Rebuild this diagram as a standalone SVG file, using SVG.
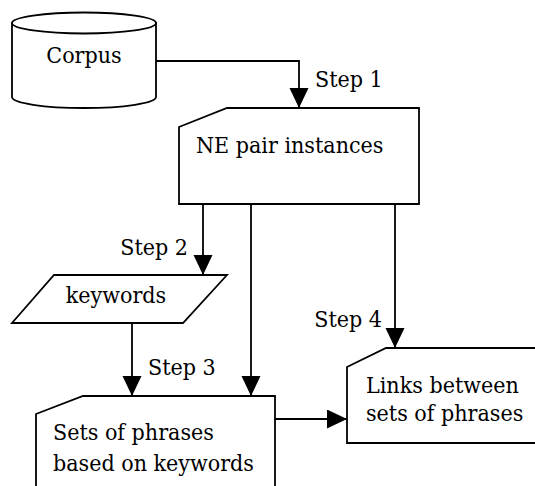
<svg xmlns="http://www.w3.org/2000/svg" width="535" height="486" viewBox="0 0 535 486">
<style>
.s{fill:#fff;stroke:#000;stroke-width:1.8;stroke-linejoin:miter}
.c{fill:none;stroke:#000;stroke-width:1.8}
.t{font-family:'DejaVu Serif Condensed','DejaVu Serif','Liberation Serif',serif;font-stretch:condensed;font-size:23px;fill:#000}
</style>
<defs>
<marker id="ah" markerUnits="userSpaceOnUse" markerWidth="21" markerHeight="20" refX="20" refY="9.5" orient="auto">
<path d="M0,0 L20,9.5 L0,19 Z" fill="#000"/>
</marker>
</defs>
<rect width="535" height="486" fill="#fff"/>
<g id="connectors">
<path class="c" d="M156,61 H299 V108" marker-end="url(#ah)"/>
<path class="c" d="M203,204 V275" marker-end="url(#ah)"/>
<path class="c" d="M251,204 V396" marker-end="url(#ah)"/>
<path class="c" d="M395,204 V348" marker-end="url(#ah)"/>
<path class="c" d="M132,323 V396" marker-end="url(#ah)"/>
<path class="c" d="M275,419 H347" marker-end="url(#ah)"/>
<text class="t" x="315" y="87">Step 1</text>
<text class="t" x="188" y="255" text-anchor="end">Step 2</text>
<text class="t" x="148" y="375">Step 3</text>
<text class="t" x="382" y="327" text-anchor="end">Step 4</text>
</g>
<g id="corpus">
<path class="s" d="M12,23 L12,97 A72,11 0 0 0 156,97 L156,23 Z"/>
<ellipse class="s" cx="84" cy="23" rx="72" ry="10.5"/>
<text class="t" x="84" y="63" text-anchor="middle">Corpus</text>
</g>
<g id="ne-pair">
<polygon class="s" points="179,127 227,108 419,108 419,204 179,204"/>
<text class="t" x="196" y="153">NE pair instances</text>
</g>
<g id="keywords">
<polygon class="s" points="54,275 227,275 183,323 12,323"/>
<text class="t" x="116" y="303" text-anchor="middle">keywords</text>
</g>
<g id="sets">
<polygon class="s" points="36,414 83,396 275,396 275,492 36,492"/>
<text class="t" x="53" y="440">Sets of phrases</text>
<text class="t" x="53" y="471">based on keywords</text>
</g>
<g id="links">
<polygon class="s" points="347,367 386,348 540,348 540,443 347,443"/>
<text class="t" x="366" y="393">Links between</text>
<text class="t" x="366" y="421">sets of phrases</text>
</g>
</svg>
